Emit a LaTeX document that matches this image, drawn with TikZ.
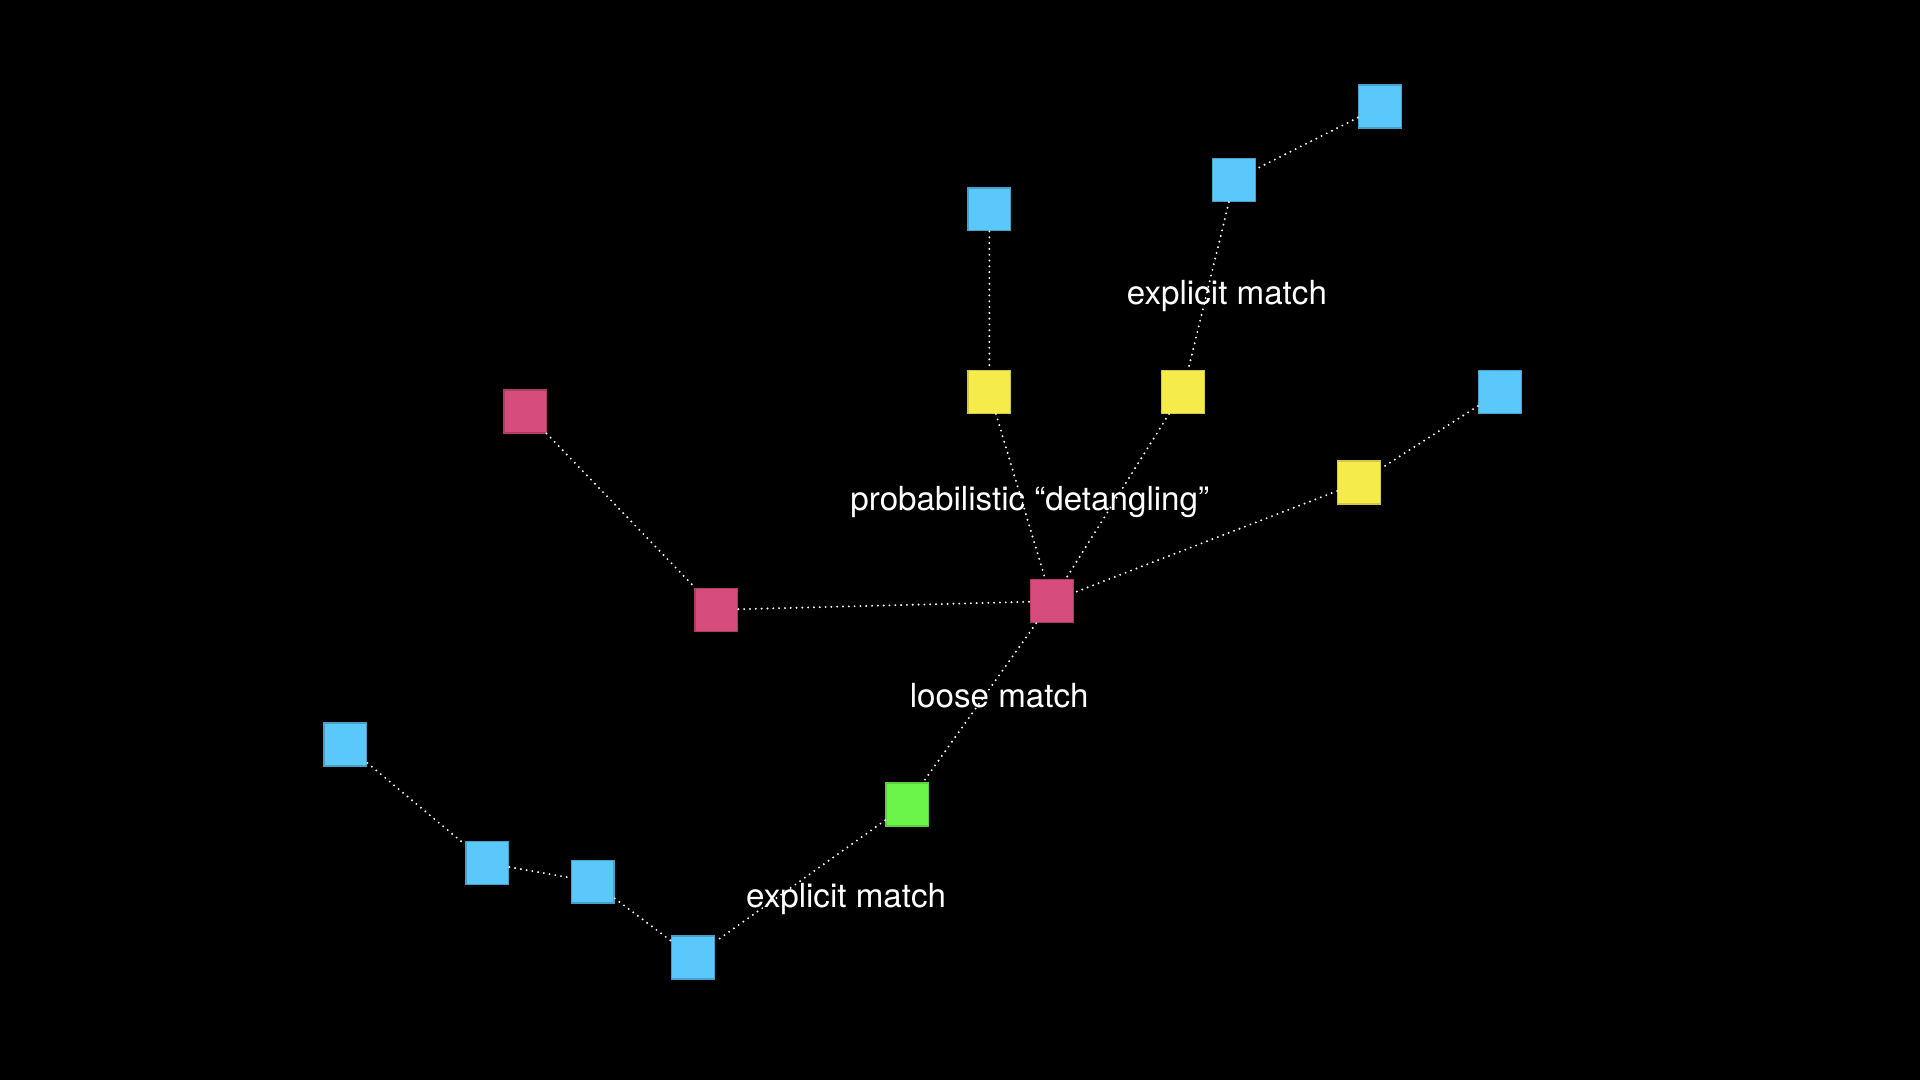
\documentclass[tikz,border=0pt]{standalone}
\usepackage{fontspec}
\setmainfont{TeX Gyre Heros}
\definecolor{skyblue}{HTML}{5AC8FA}
\definecolor{lemon}{HTML}{F5EB4B}
\definecolor{rose}{HTML}{D64C7C}
\definecolor{lime}{HTML}{6BF54A}
\begin{document}
\begin{tikzpicture}[x=0.01cm,y=-0.01cm,
    box/.style={rectangle,inner sep=0pt,minimum size=0.35cm,line width=0.3pt},
    blue box/.style={box,fill=skyblue,draw=skyblue!80!black},
    yellow box/.style={box,fill=lemon,draw=lemon!85!black},
    pink box/.style={box,fill=rose,draw=rose!80!black},
    green box/.style={box,fill=lime,draw=lime!85!black},
    link/.style={white,line width=0.5pt,line cap=round,dash pattern=on 0pt off 1.35pt},
    tag/.style={text=white,font=\fontsize{7.7pt}{9pt}\selectfont,inner sep=0pt}]
  \fill[black] (0,0) rectangle (1568,882); % background
  % top branches
  \node[blue box] (b1) at (1127,87) {};
  \node[blue box] (b2) at (1008,147) {};
  \node[blue box] (b3) at (808,171) {};
  \node[yellow box] (y1) at (808,320) {};
  \node[yellow box] (y2) at (966,320) {};
  \node[blue box] (b4) at (1225,320) {};
  \node[yellow box] (y3) at (1110,394) {};
  % middle
  \node[pink box] (p1) at (429,336) {};
  \node[pink box] (p2) at (585,498) {};
  \node[pink box] (p3) at (859,491) {};
  \node[green box] (g1) at (741,657) {};
  % bottom chain
  \node[blue box] (b5) at (282,608) {};
  \node[blue box] (b6) at (398,705) {};
  \node[blue box] (b7) at (484,720) {};
  \node[blue box] (b8) at (566,782) {};
  % links
  \draw[link] (b1) -- (b2);
  \draw[link] (b2) -- (y2);
  \draw[link] (b3) -- (y1);
  \draw[link] (y1) -- (p3);
  \draw[link] (y2) -- (p3);
  \draw[link] (b4) -- (y3);
  \draw[link] (y3) -- (p3);
  \draw[link] (p1) -- (p2);
  \draw[link] (p2) -- (p3);
  \draw[link] (p3) -- (g1);
  \draw[link] (g1) -- (b8);
  \draw[link] (b5) -- (b6);
  \draw[link] (b6) -- (b7);
  \draw[link] (b7) -- (b8);
  % labels
  \node[tag] (t1) at (1002,242) {explicit match};
  \node[tag] (t2) at (841,410) {probabilistic “detangling”};
  \node[tag] (t3) at (816,568) {loose match};
  \node[tag] (t4) at (691,734) {explicit match};
\end{tikzpicture}
\end{document}
